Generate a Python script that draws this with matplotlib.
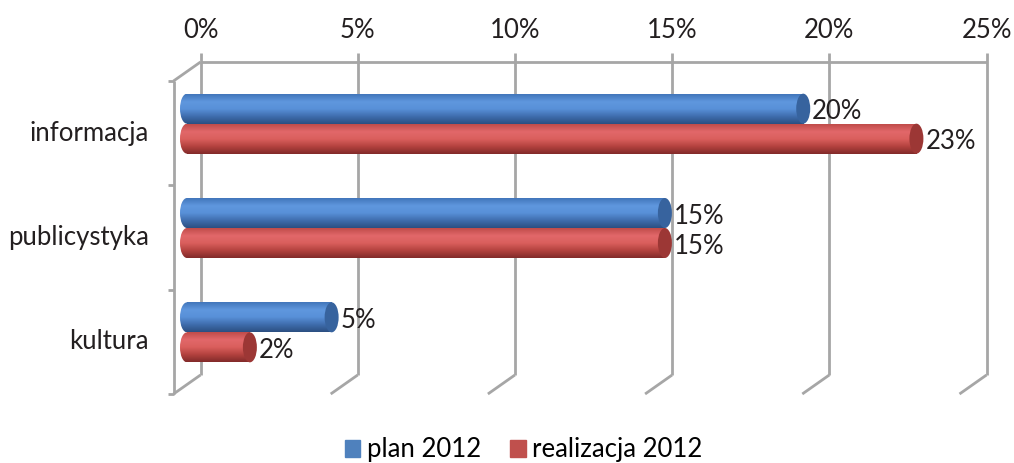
import numpy as np
import matplotlib.pyplot as plt
from matplotlib.colors import LinearSegmentedColormap
from matplotlib.patches import Ellipse, Patch

# dane (%)
categories = ['informacja', 'publicystyka', 'kultura']
plan_2012 = [19.6, 15.2, 4.6]
realizacja_2012 = [23.2, 15.2, 2.0]
x_ticks = [0, 5, 10, 15, 20, 25]
series_names = ['plan 2012', 'realizacja 2012']

plt.rcParams['font.family'] = ['Lato', 'DejaVu Sans']
FS = 18.5
TXT = '#231f20'
GRID = '#a6a6a6'

fig = plt.figure(figsize=(10.14, 4.63), dpi=100)
# os x od -1, zeby zaokraglony poczatek cylindra nie byl przyciety
px = 786 / 25
ax = fig.add_axes([(187 - px) / 1014, 78.5 / 463, (786 + px) / 1014, 313 / 463])
ax.set_xlim(-1, 25)
ax.set_ylim(2.5, -0.5)
ax.axis('off')

# przesuniecie perspektywy (pseudo 3D) w jednostkach danych
px_x = ax.bbox.width / 26
px_y = ax.bbox.height / 3
dx = 13.5 / px_x
dy = 9.5 / px_y
y_top, y_bot = -0.5, 2.5

line_kw = dict(color=GRID, lw=2, clip_on=False, solid_capstyle='butt', zorder=1)

# sciana tylna + podloga
ax.plot([0 + dx, 25 + dx], [y_top - dy, y_top - dy], **line_kw)
for t in x_ticks:
    ax.plot([t + dx, t + dx], [y_top - dy - 9 / px_y, y_bot - dy], **line_kw)
    ax.plot([t + dx, t - dx], [y_bot - dy, y_bot + dy], **line_kw)
    ax.text(t + dx, y_top - dy - 31 / px_y, f'{t}%', ha='center', va='center',
            fontsize=FS, color=TXT)

# sciana boczna
ax.plot([dx, -dx], [y_top - dy, y_top + dy], **line_kw)
ax.plot([-dx, -dx], [y_top + dy, y_bot + dy], **line_kw)
for b in np.arange(len(categories) + 1) - 0.5:
    ax.plot([-dx - 6 / px_x, -dx], [b + dy, b + dy], **line_kw)

for i, name in enumerate(categories):
    ax.text(-dx - 25 / px_x, i + dy, name, ha='right', va='center',
            fontsize=FS, color=TXT)

# cylindry
h = 30 / px_y
cap_w = 14 / px_x
styles = [
    (['#4276bb', '#5f97de', '#5890d8', '#3f6dad', '#2c4f82'], '#37639e', '#4f81bd'),
    (['#c04c4a', '#e2686a', '#da5f5d', '#b4423f', '#822b2a'], '#9c3735', '#c0504d'),
]
grad = np.linspace(0, 1, 64).reshape(-1, 1)
y = np.arange(len(categories))

for k, (vals, off) in enumerate([(plan_2012, -h / 2), (realizacja_2012, h / 2)]):
    cols, cap_col, base = styles[k]
    cmap = LinearSegmentedColormap.from_list(f'c{k}', cols)
    bars = ax.barh(y + off, vals, height=h, facecolor='none', edgecolor='none')
    for rect, v, yc in zip(bars.patches, vals, y + off):
        left = Ellipse((0, yc), cap_w, h, facecolor='none', edgecolor='none')
        ax.add_patch(left)
        for clip, z in ((left, 3.9), (rect, 4)):
            im = ax.imshow(grad, cmap=cmap, aspect='auto', zorder=z,
                           extent=[-cap_w, v, yc + h / 2, yc - h / 2])
            im.set_clip_path(clip)
        ax.add_patch(Ellipse((v, yc), cap_w, h, facecolor=cap_col,
                             edgecolor='none', zorder=5))
        ax.text(v + cap_w / 2 + 2 / px_x, yc + 3 / px_y, f'{round(v)}%',
                ha='left', va='center', fontsize=FS, color=TXT)

ax.set_xlim(-1, 25)
ax.set_ylim(2.5, -0.5)

handles = [Patch(color=styles[0][2]), Patch(color=styles[1][2])]
fig.legend(handles, series_names, loc='center',
           bbox_to_anchor=(523.5 / 1014, 1 - 450 / 463),
           ncol=2, frameon=False, fontsize=FS, handlelength=0.6, handleheight=0.6,
           handletextpad=0.25, columnspacing=1.15, borderaxespad=0, borderpad=0)

fig.savefig('out.png', dpi=100)
